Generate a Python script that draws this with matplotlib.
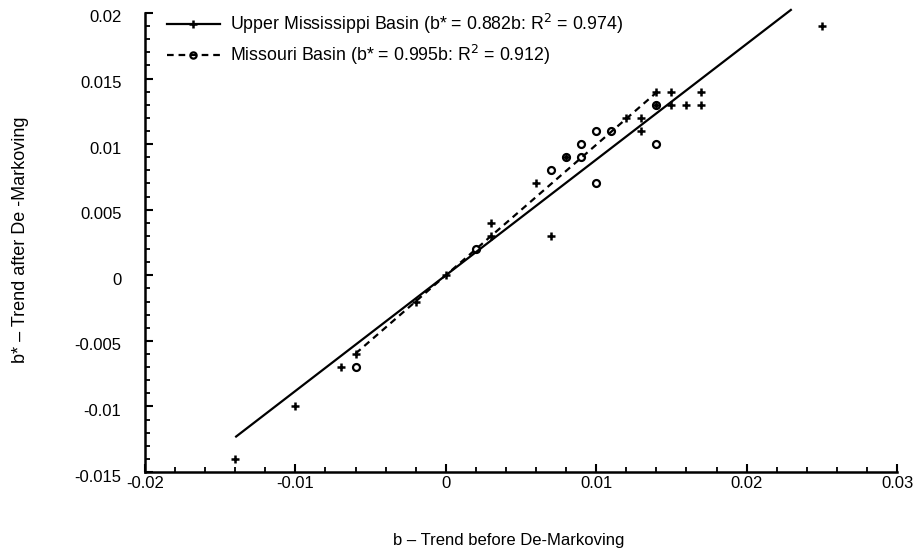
import matplotlib
matplotlib.use("Agg")
import matplotlib.pyplot as plt
import matplotlib.transforms as mtransforms
from matplotlib.ticker import MultipleLocator, FixedLocator
import numpy as np

plt.rcParams['font.family'] = ['Liberation Sans', 'DejaVu Sans']

# Upper Mississippi Basin: trend before (b) and after (b*) de-Markoving
umb_b = [-0.014, -0.010, -0.007, -0.006, -0.002, 0.000, 0.003, 0.003, 0.006, 0.007,
         0.008, 0.012, 0.013, 0.013, 0.014, 0.014, 0.015, 0.015, 0.016, 0.017, 0.017, 0.025]
umb_bstar = [-0.014, -0.010, -0.007, -0.006, -0.002, 0.000, 0.003, 0.004, 0.007, 0.003,
             0.009, 0.012, 0.012, 0.011, 0.014, 0.013, 0.013, 0.014, 0.013, 0.013, 0.014, 0.019]

# Missouri Basin
mo_b = [-0.006, 0.002, 0.007, 0.008, 0.009, 0.009, 0.010, 0.010, 0.011, 0.014, 0.014]
mo_bstar = [-0.007, 0.002, 0.008, 0.009, 0.010, 0.009, 0.011, 0.007, 0.011, 0.013, 0.010]

# Regression slopes (through origin) and the b-range each fit line spans
umb_slope, umb_r2 = 0.882, 0.974
mo_slope, mo_r2 = 0.995, 0.912
umb_fit_range = [-0.014, 0.023]
mo_fit_range = [-0.006, 0.014]

x_ticks = [-0.02, -0.01, 0, 0.01, 0.02, 0.03]
x_ticklabels = ['-0.02', '-0.01', '0', '0.01', '0.02', '0.03']
y_ticks = [-0.015, -0.01, -0.005, 0, 0.005, 0.01, 0.015, 0.02]
y_ticklabels = ['-0.015', '-0.01', '-0.005', '0', '0.005', '0.01', '0.015', '0.02']

fig = plt.figure(figsize=(9.18, 5.57), dpi=100)
ax = fig.add_axes([145 / 918, 1 - 472 / 557, (897 - 145) / 918, (472 - 13) / 557])

dash = (0, (3.0, 2.2))
fx = np.array(umb_fit_range)
ax.plot(fx, umb_slope * fx, color='black', lw=1.6, solid_capstyle='butt', zorder=2,
        clip_on=False)
fx2 = np.array(mo_fit_range)
ax.plot(fx2, mo_slope * fx2, color='black', lw=1.6, ls=dash, zorder=2)

ax.plot(umb_b, umb_bstar, ls='none', marker='+', ms=6, mew=1.8, color='black', zorder=3)
ax.plot(mo_b, mo_bstar, ls='none', marker='o', ms=5, mew=1.6, mfc='none', mec='black', zorder=3)

# legend proxies: line with its marker in the middle
h1, = ax.plot([], [], color='black', lw=1.6, marker='+', ms=6, mew=1.8)
h2, = ax.plot([], [], color='black', lw=1.6, ls=dash, marker='o', ms=4.5, mew=1.6,
              mfc='none', mec='black')
leg = ax.legend([h1, h2],
                [f'Upper Mississippi Basin (b* = {umb_slope:.3f}b: R$^2$ = {umb_r2:.3f})',
                 f'Missouri Basin (b* = {mo_slope:.3f}b: R$^2$ = {mo_r2:.3f})'],
                loc='upper left', frameon=False, fontsize=12.8, handlelength=3.0,
                handletextpad=0.55, labelspacing=0.4, borderaxespad=0.0,
                borderpad=0.0, bbox_to_anchor=(0.029, 1.003), numpoints=1)

ax.set_xlim(-0.02, 0.03)
ax.set_ylim(-0.015, 0.02)
ax.xaxis.set_major_locator(FixedLocator(x_ticks))
ax.set_xticklabels(x_ticklabels)
ax.yaxis.set_major_locator(FixedLocator(y_ticks))
ax.set_yticklabels(y_ticklabels)
ax.xaxis.set_minor_locator(MultipleLocator(0.002))
ax.yaxis.set_minor_locator(MultipleLocator(0.001))

for s in ['top', 'right']:
    ax.spines[s].set_visible(False)
for s in ['left', 'bottom']:
    ax.spines[s].set_linewidth(1.8)

ax.tick_params(which='major', direction='in', length=6, width=1.5, labelsize=12)
ax.tick_params(which='minor', direction='in', length=3.5, width=1.3)
ax.tick_params(axis='x', which='major', pad=3)
ax.tick_params(axis='y', which='major', pad=17)

# y tick labels sit slightly below their ticks
off = mtransforms.ScaledTranslation(0, -3.5 / 100, fig.dpi_scale_trans)
for lab in ax.get_yticklabels():
    lab.set_transform(lab.get_transform() + off)

ax.set_xlabel('b – Trend before De-Markoving', fontsize=12)
ax.set_ylabel('b* – Trend after De -Markoving', fontsize=13)
ax.xaxis.set_label_coords(0.483, -0.150)
ax.yaxis.set_label_coords(-0.166, 0.505)
ax.xaxis.label.set_va('center')
ax.yaxis.label.set_va('center')

fig.savefig('out.png', dpi=100)
